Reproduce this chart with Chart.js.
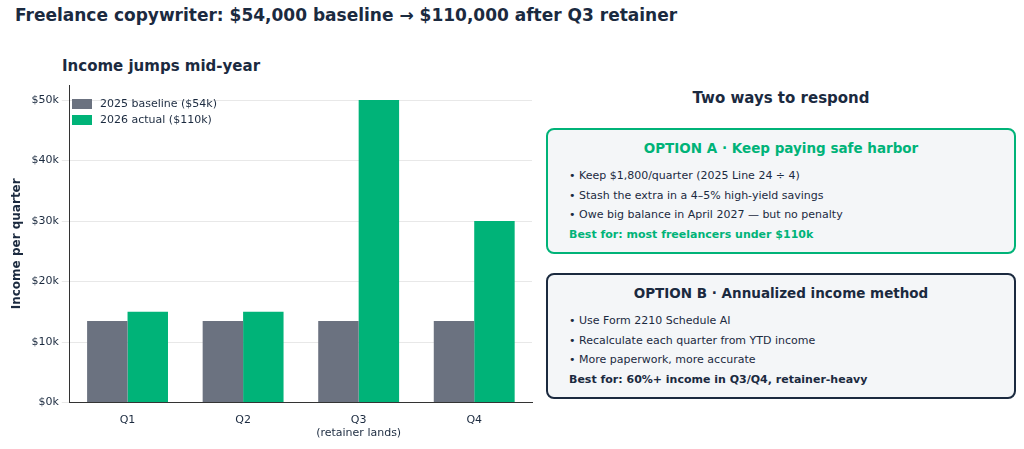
<!DOCTYPE html>
<html><head><meta charset="utf-8">
<script src="https://cdn.jsdelivr.net/npm/chart.js@4"></script>
<style>
body{margin:0;width:1024px;height:449px;background:#fff;font-family:"DejaVu Sans",sans-serif;color:#1b2a3f;position:relative;overflow:hidden}
.abs{position:absolute}
.box{position:absolute;left:546px;width:466px;height:122px;border:2px solid;border-radius:8px;background:#f4f6f8;box-sizing:content-box}
.box h3{margin:0;position:absolute;top:10px;width:100%;text-align:center;font-size:13.5px}
.box ul{list-style:none;margin:0;padding:0;position:absolute;left:21px;top:36px;font-size:11px;line-height:19.5px}
.leg{font-size:11px;display:flex;align-items:center}
.leg i{display:inline-block;width:20px;height:10px;margin-right:8px}
</style></head><body>
<div class="abs" style="left:15px;top:5px;font-size:17px;font-weight:bold">Freelance copywriter: $54,000 baseline → $110,000 after Q3 retainer</div>
<div class="abs" style="left:62px;top:57px;font-size:15px;font-weight:bold">Income jumps mid-year</div>
<canvas id="c" width="540" height="449" style="position:absolute;left:0;top:0;width:540px;height:449px"></canvas>
<div class="abs leg" style="left:72px;top:97px"><i style="background:#6b7280"></i>2025 baseline ($54k)</div>
<div class="abs leg" style="left:72px;top:113px"><i style="background:#00b378"></i>2026 actual ($110k)</div>
<div class="abs" style="left:546px;width:470px;top:89px;text-align:center;font-size:15px;font-weight:bold">Two ways to respond</div>
<div class="box" style="top:128px;border-color:#00b378">
<h3 style="color:#00b378">OPTION A · Keep paying safe harbor</h3>
<ul><li>• Keep $1,800/quarter (2025 Line 24 ÷ 4)</li><li>• Stash the extra in a 4–5% high-yield savings</li><li>• Owe big balance in April 2027 — but no penalty</li><li style="color:#00b378;font-weight:bold">Best for: most freelancers under $110k</li></ul></div>
<div class="box" style="top:273px;border-color:#1b2a3f">
<h3>OPTION B · Annualized income method</h3>
<ul><li>• Use Form 2210 Schedule AI</li><li>• Recalculate each quarter from YTD income</li><li>• More paperwork, more accurate</li><li style="font-weight:bold">Best for: 60%+ income in Q3/Q4, retainer-heavy</li></ul></div>
<script>
const categories=[["Q1"],["Q2"],["Q3","(retainer lands)"],["Q4"]];
const baseline2025=[13500,13500,13500,13500];
const actual2026=[15000,15000,50000,30000];
const yTicks=[0,10000,20000,30000,40000,50000];
Chart.defaults.font.family='"DejaVu Sans",sans-serif';
Chart.defaults.color='#1b2a3f';
new Chart(document.getElementById('c'),{type:'bar',
data:{labels:categories,datasets:[
{label:'2025 baseline ($54k)',data:baseline2025,backgroundColor:'#6b7280'},
{label:'2026 actual ($110k)',data:actual2026,backgroundColor:'#00b378'}]},
options:{responsive:false,animation:false,devicePixelRatio:1,
layout:{padding:{top:85,right:8,bottom:6,left:6}},
datasets:{bar:{categoryPercentage:0.7,barPercentage:1}},
plugins:{legend:{display:false},tooltip:{enabled:false}},
scales:{
x:{grid:{display:false},border:{color:'#333'},ticks:{font:{size:11},color:'#1b2a3f'}},
y:{min:0,max:52500,afterBuildTicks:a=>{a.ticks=yTicks.map(v=>({value:v}))},
ticks:{font:{size:11},callback:v=>'$'+v/1000+'k'},
grid:{color:'#e8e8e8'},border:{color:'#333'},
title:{display:true,text:'Income per quarter',font:{size:12,weight:'bold'}}}}}});
</script>
</body></html>
